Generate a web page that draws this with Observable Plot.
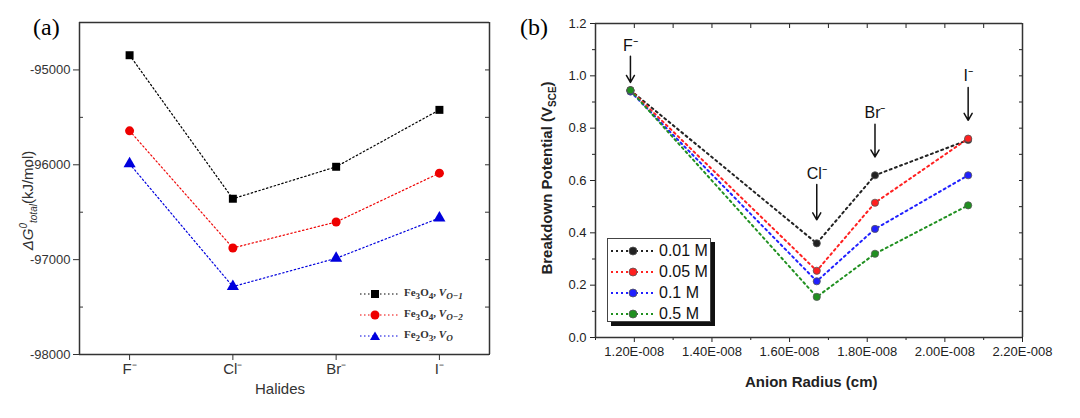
<!DOCTYPE html>
<html><head><meta charset="utf-8">
<script src="https://cdn.jsdelivr.net/npm/d3@7"></script>
<script src="https://cdn.jsdelivr.net/npm/@observablehq/plot@0.6"></script>
<style>
body{margin:0;background:#fff;font-family:"Liberation Sans",Arial,sans-serif}
#wrap{position:relative;width:1080px;height:418px;overflow:hidden}
.abs{position:absolute}
.rot{transform:rotate(-90deg);transform-origin:center;white-space:nowrap}
</style></head><body>
<div id="wrap"></div>
<script>
// ---- Panel (a) data
const halides = ["F⁻","Cl⁻","Br⁻","I⁻"];
const seriesA = ["Fe₃O₄, V_O-1","Fe₃O₄, V_O-2","Fe₂O₃, V_O"];
const fe3o4_1 = [-94845,-96358,-96021,-95421];
const fe3o4_2 = [-95642,-96877,-96603,-96088];
const fe2o3 = [-95990,-97284,-96986,-96561];
const aTicks = [-95000,-96000,-97000,-98000];
// ---- Panel (b) data
const radius = [1.19e-8,1.67e-8,1.82e-8,2.06e-8];
const concs = ["0.01 M","0.05 M","0.1 M","0.5 M"];
const v001 = [0.945,0.36,0.62,0.755], e001=[0.01,0.045,0.025,0.02];
const v005 = [0.945,0.255,0.515,0.76], e005=[0.01,0.03,0.035,0.025];
const v01 = [0.94,0.215,0.415,0.62], e01=[0.01,0.015,0.02,0.035];
const v05 = [0.945,0.155,0.32,0.505], e05=[0.01,0.03,0.035,0.01];
const bTicks = [1.2e-8,1.4e-8,1.6e-8,1.8e-8,2.0e-8,2.2e-8];
const annIon = ["F⁻","Cl⁻","Br⁻","I⁻"];
const annText = [1.116,0.627,0.86,1.0];
const annTop = [1.075,0.585,0.815,0.955];
const annTip = [0.975,0.45,0.69,0.83];

const wrap = document.getElementById("wrap");
const colA = ["#000","#e00","#0000dd"];
const symA = ["square","circle","triangle"];
const A = [];
[fe3o4_1,fe3o4_2,fe2o3].forEach((vals,s)=>vals.forEach((v,i)=>A.push({s,i,v})));
const aDomX=[-0.485,3.485], aDomY=[-98000,-94500];

const pa = Plot.plot({
  width:500,height:418,marginLeft:79,marginRight:11,marginTop:22,marginBottom:64,
  style:{fontFamily:"Liberation Sans, Arial",fontSize:"15px",color:"#333"},
  x:{domain:aDomX,label:null},
  y:{domain:aDomY,label:null},
  color:{domain:[0,1,2],range:colA},
  symbol:{domain:[0,1,2],range:symA},
  marks:[
    Plot.axisX({anchor:"bottom",ticks:[0,1,2,3],tickFormat:i=>halides[i],tickSize:6,label:null,fontSize:15}),
    Plot.axisY({anchor:"left",ticks:aTicks,tickFormat:d=>String(d),tickSize:6,label:null,fontSize:13}),
    Plot.axisY({anchor:"left",ticks:[-97500,-96500,-95500],tickSize:-4,tickFormat:()=>"",label:null}),
    Plot.axisY({anchor:"right",ticks:d3.range(-98000,-94500,500),tickSize:-5,tickFormat:()=>"",label:null}),
    Plot.ruleY(aDomY,{stroke:"#333",strokeWidth:1.5}),
    Plot.ruleX(aDomX,{stroke:"#333",strokeWidth:1.5}),
    Plot.line(A,{x:"i",y:"v",z:"s",stroke:"s",strokeDasharray:"1.5,2.5",strokeWidth:1.2}),
    Plot.dot(A,{x:"i",y:"v",symbol:"s",fill:"s",r:4.5})
  ]
});
pa.style.position="absolute";pa.style.left="0px";pa.style.top="0px";
wrap.appendChild(pa);

const colB = ["#222","#ff2020","#2020ff","#209020"];
const B=[];
[[v001,e001],[v005,e005],[v01,e01],[v05,e05]].forEach(([v,e],s)=>v.forEach((y,i)=>B.push({s,x:radius[i],y,e})));
const cap=1.4e-10;
const ann = annIon.map((t,i)=>({t,x:radius[i],yt:annText[i],y1:annTop[i],y2:annTip[i]}));
const bDomX=[1.1e-8,2.2e-8], bDomY=[0,1.2];
const pb = Plot.plot({
  width:580,height:418,marginLeft:95,marginRight:58,marginTop:23,marginBottom:81,
  style:{fontFamily:"Liberation Sans, Arial",fontSize:"13px",color:"#222"},
  x:{domain:bDomX,label:null},
  y:{domain:bDomY,label:null},
  color:{domain:[0,1,2,3],range:colB},
  marks:[
    Plot.axisX({anchor:"bottom",ticks:bTicks,tickFormat:d=>(d*1e8).toFixed(2)+"E-008",tickSize:5,label:null,fontSize:13}),
    Plot.axisX({anchor:"bottom",ticks:d3.range(11,22,2).map(d=>d*1e-9),tickSize:3,tickFormat:()=>"",label:null}),
    Plot.axisX({anchor:"top",ticks:d3.range(11,22,1).map(d=>d*1e-9),tickSize:-4,tickFormat:()=>"",label:null}),
    Plot.axisY({anchor:"left",ticks:d3.range(0,1.21,0.2),tickFormat:d=>d.toFixed(1),tickSize:5,label:null,fontSize:13}),
    Plot.axisY({anchor:"left",ticks:d3.range(0.1,1.2,0.2),tickSize:3,tickFormat:()=>"",label:null}),
    Plot.axisY({anchor:"right",ticks:d3.range(0,1.21,0.1),tickSize:-4,tickFormat:()=>"",label:null}),
    Plot.ruleY(bDomY,{stroke:"#333",strokeWidth:1.5}),
    Plot.ruleX(bDomX,{stroke:"#333",strokeWidth:1.5}),
    Plot.line(B,{x:"x",y:"y",z:"s",stroke:"s",strokeDasharray:"2,3.5",strokeWidth:2}),
    Plot.ruleX(B,{x:"x",y1:d=>d.y-d.e,y2:d=>d.y+d.e,stroke:"s",strokeWidth:1.2}),
    Plot.ruleY(B,{y:d=>d.y-d.e,x1:d=>d.x-cap,x2:d=>d.x+cap,stroke:"s",strokeWidth:1.2}),
    Plot.ruleY(B,{y:d=>d.y+d.e,x1:d=>d.x-cap,x2:d=>d.x+cap,stroke:"s",strokeWidth:1.2}),
    Plot.dot(B,{x:"x",y:"y",fill:"s",stroke:"#555",strokeWidth:0.8,r:3.6}),
    Plot.arrow(ann,{x1:"x",x2:"x",y1:"y1",y2:"y2",stroke:"#111",strokeWidth:1.5,headLength:8}),
    Plot.text(ann,{x:"x",y:"yt",text:"t",fontSize:16,fill:"#111"})
  ]
});
pb.style.position="absolute";pb.style.left="500px";pb.style.top="0px";
wrap.appendChild(pb);

function html(s){const d=document.createElement("div");d.className="abs";d.innerHTML=s;wrap.appendChild(d);return d;}
html('<span style="font-family:Liberation Serif,Times New Roman;font-size:24px">(a)</span>').style.cssText+="left:33px;top:14px";
html('<span style="font-family:Liberation Serif,Times New Roman;font-size:24px">(b)</span>').style.cssText+="left:520px;top:14px";
html('<span style="font-size:15px;color:#333">Halides</span>').style.cssText+="left:255px;top:380px";
const ya=html('<span style="font-size:15px;color:#333"><i>ΔG</i><sup style="font-size:10px"><i>0</i></sup><sub style="font-size:10px"><i>total</i></sub>(kJ/mol)</span>');
ya.classList.add("rot");ya.style.cssText+="left:-42px;top:190px;width:140px;text-align:center";
html('<span style="font-size:15px;font-weight:bold;color:#222">Anion Radius (cm)</span>').style.cssText+="left:745px;top:373px";
const yb=html('<span style="font-size:15px;font-weight:bold;color:#222">Breakdown Potential (V<sub style="font-size:10px">SCE</sub>)</span>');
yb.classList.add("rot");yb.style.cssText+="left:438px;top:168px;width:220px;text-align:center";
const legA = seriesA.map((s,i)=>{
  const lab = i===0?'Fe<sub>3</sub>O<sub>4</sub>, <i>V</i><sub><i>O−1</i></sub>':i===1?'Fe<sub>3</sub>O<sub>4</sub>, <i>V</i><sub><i>O−2</i></sub>':'Fe<sub>2</sub>O<sub>3</sub>, <i>V</i><sub><i>O</i></sub>';
  const shp = i===0?'<rect x="11" y="2" width="8" height="8" fill="#000"/>':i===1?'<circle cx="15" cy="6" r="4.5" fill="#e00"/>':'<path d="M10,10 L15,1.5 L20,10Z" fill="#0000dd"/>';
  return `<div style="height:21px;display:flex;align-items:center"><svg width="38" height="12"><line x1="0" y1="6" x2="38" y2="6" stroke="${colA[i]}" stroke-dasharray="1.5,2.5"/>${shp}</svg><span style="margin-left:6px;font-family:Liberation Serif;font-weight:bold;font-size:11px;color:#333">${lab}</span></div>`;
}).join("");
html(legA).style.cssText+="left:360px;top:283px";
const legB = concs.map((c,i)=>`<div style="height:21px;display:flex;align-items:center"><svg width="44" height="12"><line x1="0" y1="6" x2="44" y2="6" stroke="${colB[i]}" stroke-width="2" stroke-dasharray="2,3"/><circle cx="22" cy="6" r="4" fill="${colB[i]}" stroke="#555" stroke-width="0.8"/></svg><span style="margin-left:4px;font-size:16px;color:#111">${c}</span></div>`).join("");
const lb=html(legB);
lb.style.cssText+="left:607px;top:238px;width:104px;height:84px;border:1px solid #444;background:#fff;box-shadow:4px 4px 0 #111;padding:1px 0 0 3px;box-sizing:border-box";
</script></body></html>
